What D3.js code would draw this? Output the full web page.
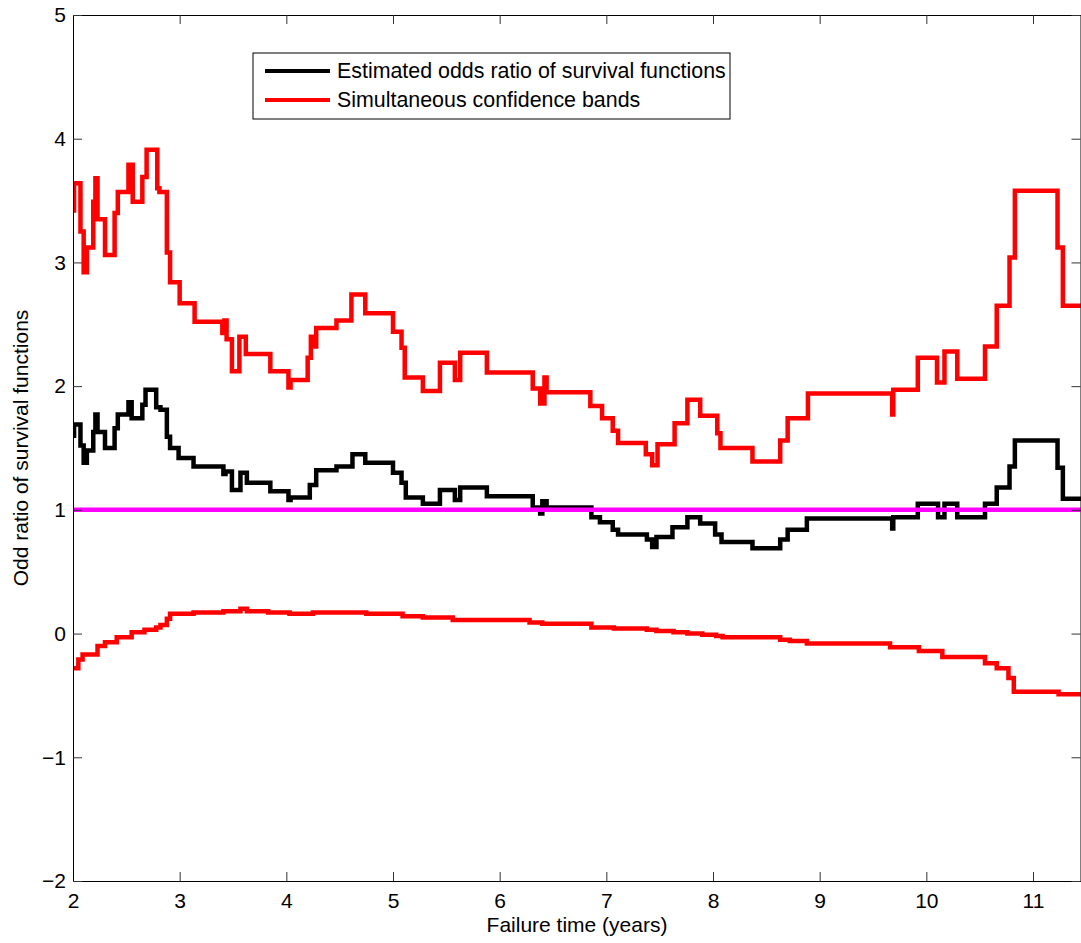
<!DOCTYPE html>
<html>
<head>
<meta charset="utf-8">
<script src="https://cdn.jsdelivr.net/npm/d3@7"></script>
<style>
  body { margin: 0; background: #fff; }
  svg { display: block; }
  text { font-family: "Liberation Sans", Arial, Helvetica, sans-serif; fill: #000; }
</style>
</head>
<body>
<div id="chart"></div>
<script>
// step data (time in years, value = odds ratio)
var estTime = [2.00, 2.01, 2.07, 2.10, 2.13, 2.19, 2.21, 2.23, 2.30, 2.39, 2.42, 2.52, 2.55, 2.65, 2.68, 2.78, 2.82,
  2.88, 2.91, 2.99, 3.13, 3.41, 3.43, 3.49, 3.57, 3.63, 3.85, 4.02, 4.04, 4.22, 4.28, 4.47, 4.62, 4.74, 5.00,
  5.08, 5.12, 5.28, 5.44, 5.58, 5.63, 5.88, 6.31, 6.38, 6.40, 6.44, 6.86, 6.94, 7.06, 7.11, 7.38, 7.43, 7.47,
  7.62, 7.76, 7.88, 8.02, 8.08, 8.37, 8.63, 8.70, 8.88, 9.68, 9.69, 9.92, 10.11, 10.17, 10.29, 10.55, 10.66,
  10.78, 10.83, 11.23, 11.28];
var estValue = [1.60, 1.69, 1.52, 1.38, 1.48, 1.63, 1.77, 1.63, 1.50, 1.66, 1.77, 1.87, 1.74, 1.85, 1.97, 1.83, 1.81,
  1.59, 1.50, 1.42, 1.35, 1.29, 1.31, 1.16, 1.30, 1.22, 1.15, 1.08, 1.10, 1.20, 1.32, 1.35, 1.45, 1.38, 1.30,
  1.22, 1.10, 1.05, 1.16, 1.08, 1.18, 1.11, 1.02, 0.97, 1.07, 1.02, 0.94, 0.90, 0.84, 0.80, 0.76, 0.70, 0.78,
  0.86, 0.94, 0.89, 0.80, 0.74, 0.69, 0.76, 0.84, 0.93, 0.85, 0.94, 1.05, 0.94, 1.05, 0.94, 1.05, 1.18,
  1.35, 1.56, 1.34, 1.09];

var upperTime = [2.00, 2.01, 2.07, 2.10, 2.13, 2.19, 2.21, 2.23, 2.30, 2.39, 2.42, 2.52, 2.56, 2.65, 2.69, 2.79, 2.81,
  2.88, 2.91, 3.00, 3.14, 3.40, 3.42, 3.44, 3.49, 3.56, 3.62, 3.85, 4.02, 4.04, 4.20, 4.23, 4.25, 4.28, 4.47,
  4.61, 4.74, 5.00, 5.08, 5.11, 5.28, 5.44, 5.58, 5.63, 5.88, 6.31, 6.38, 6.42, 6.44, 6.85, 6.96, 7.06, 7.11,
  7.37, 7.43, 7.48, 7.64, 7.76, 7.88, 8.04, 8.07, 8.37, 8.63, 8.70, 8.89, 9.68, 9.69, 9.92, 10.10, 10.17,
  10.29, 10.55, 10.66, 10.78, 10.83, 11.23, 11.28];
var upperValue = [3.42, 3.64, 3.25, 2.92, 3.12, 3.49, 3.68, 3.35, 3.06, 3.40, 3.57, 3.79, 3.49, 3.69, 3.91, 3.60, 3.57,
  3.08, 2.84, 2.67, 2.52, 2.43, 2.53, 2.38, 2.12, 2.40, 2.26, 2.12, 1.99, 2.05, 2.23, 2.40, 2.32, 2.47, 2.53,
  2.74, 2.59, 2.44, 2.31, 2.07, 1.96, 2.19, 2.05, 2.27, 2.11, 1.98, 1.86, 2.07, 1.95, 1.84, 1.74, 1.64, 1.54,
  1.45, 1.36, 1.53, 1.70, 1.89, 1.76, 1.62, 1.50, 1.39, 1.56, 1.74, 1.94, 1.77, 1.97, 2.23, 2.03, 2.28,
  2.06, 2.32, 2.65, 3.04, 3.58, 3.12, 2.65];

var lowerTime = [2.00, 2.05, 2.09, 2.23, 2.30, 2.41, 2.55, 2.67, 2.78, 2.82, 2.88, 2.91, 3.13, 3.41, 3.57, 3.63, 3.83,
  4.03, 4.25, 4.75, 5.09, 5.28, 5.56, 6.28, 6.40, 6.86, 7.07, 7.38, 7.47, 7.63, 7.76, 7.90, 8.03, 8.09, 8.63,
  8.72, 8.88, 9.66, 9.93, 10.15, 10.55, 10.66, 10.77, 10.82, 11.24];
var lowerValue = [-0.28, -0.21, -0.17, -0.10, -0.07, -0.03, 0.01, 0.03, 0.05, 0.07, 0.12, 0.16, 0.17, 0.18, 0.20, 0.18, 0.17,
  0.16, 0.17, 0.16, 0.14, 0.13, 0.11, 0.09, 0.08, 0.05, 0.04, 0.03, 0.02, 0.01, 0.00, -0.01, -0.02, -0.03, -0.05,
  -0.06, -0.08, -0.11, -0.14, -0.19, -0.24, -0.28, -0.36, -0.47, -0.49];

var refLevel = 1;
var xTicks = [2, 3, 4, 5, 6, 7, 8, 9, 10, 11];
var yTicks = [-2, -1, 0, 1, 2, 3, 4, 5];
var legendLabels = ["Estimated odds ratio of survival functions", "Simultaneous confidence bands"];

var width = 1081, height = 943;
// note: "top" is taken by window.top, so use plot* names
var plotLeft = 73, plotRight = 1081, plotTop = 15, plotBottom = 881;
var xMax = 11.45;
var lineW = 4.5;

var svg = d3.select("#chart").append("svg")
  .attr("width", width)
  .attr("height", height);

var x = d3.scaleLinear().domain([2, xMax]).range([plotLeft, plotRight]);
var y = d3.scaleLinear().domain([-2, 5]).range([plotBottom, plotTop]);

svg.append("clipPath").attr("id", "plotclip")
  .append("rect")
  .attr("x", plotLeft).attr("y", plotTop)
  .attr("width", plotRight - plotLeft).attr("height", plotBottom - plotTop);

function toPoints(times, values) {
  var pts = times.map(function(t, i) { return [t, values[i]]; });
  pts.push([xMax, values[values.length - 1]]);
  return pts;
}

var line = d3.line()
  .x(function(d) { return x(d[0]); })
  .y(function(d) { return y(d[1]); })
  .curve(d3.curveStepAfter);

var plot = svg.append("g").attr("clip-path", "url(#plotclip)");

plot.append("path")
  .datum(toPoints(upperTime, upperValue))
  .attr("d", line)
  .attr("fill", "none").attr("stroke", "#ff0000").attr("stroke-width", lineW);

plot.append("path")
  .datum(toPoints(lowerTime, lowerValue))
  .attr("d", line)
  .attr("fill", "none").attr("stroke", "#ff0000").attr("stroke-width", lineW);

plot.append("path")
  .datum(toPoints(estTime, estValue))
  .attr("d", line)
  .attr("fill", "none").attr("stroke", "#000").attr("stroke-width", lineW);

plot.append("line")
  .attr("x1", x(2)).attr("x2", x(xMax))
  .attr("y1", y(refLevel)).attr("y2", y(refLevel))
  .attr("stroke", "#ff00ff").attr("stroke-width", lineW);

// axes, ticks pointing inward like matlab
var tickLen = 9;
var fontSize = 21;

svg.append("g")
  .attr("transform", "translate(0," + plotBottom + ")")
  .call(d3.axisBottom(x).tickValues(xTicks).tickSize(-tickLen).tickPadding(12).tickSizeOuter(0))
  .call(function(g) {
    g.select(".domain").attr("stroke", "#000");
    g.selectAll("text").attr("font-size", fontSize).attr("font-family", "Liberation Sans, Arial, sans-serif");
  });

svg.append("g")
  .attr("transform", "translate(0," + plotTop + ")")
  .call(d3.axisTop(x).tickValues(xTicks).tickSize(-tickLen).tickFormat("").tickSizeOuter(0))
  .call(function(g) { g.select(".domain").attr("stroke", "#000"); });

svg.append("g")
  .attr("transform", "translate(" + plotLeft + ",0)")
  .call(d3.axisLeft(y).tickValues(yTicks).tickSize(-tickLen).tickPadding(7).tickSizeOuter(0)
    .tickFormat(function(d) { return d < 0 ? "\u2212" + Math.abs(d) : d; }))
  .call(function(g) {
    g.select(".domain").attr("stroke", "#000");
    g.selectAll("text").attr("font-size", fontSize).attr("font-family", "Liberation Sans, Arial, sans-serif");
  });

svg.append("g")
  .attr("transform", "translate(" + (plotRight - 0.5) + ",0)")
  .call(d3.axisRight(y).tickValues(yTicks).tickSize(-tickLen).tickFormat("").tickSizeOuter(0))
  .call(function(g) { g.select(".domain").attr("stroke", "#000"); });

svg.selectAll(".tick line").attr("stroke", "#333");

// axis labels
svg.append("text")
  .attr("x", 577).attr("y", 932)
  .attr("text-anchor", "middle")
  .attr("font-size", fontSize)
  .text("Failure time (years)");

svg.append("text")
  .attr("transform", "translate(28," + ((plotTop + plotBottom) / 2) + ")rotate(-90)")
  .attr("text-anchor", "middle")
  .attr("font-size", fontSize)
  .text("Odd ratio of survival functions");

// legend
var legend = svg.append("g").attr("transform", "translate(253,53)");
legend.append("rect")
  .attr("width", 477).attr("height", 66)
  .attr("fill", "#fff").attr("stroke", "#000").attr("stroke-width", 1);

var legendColors = ["#000", "#ff0000"];
legendLabels.forEach(function(label, i) {
  var ly = 18 + i * 29;
  legend.append("line")
    .attr("x1", 12).attr("x2", 77)
    .attr("y1", ly).attr("y2", ly)
    .attr("stroke", legendColors[i]).attr("stroke-width", 4);
  legend.append("text")
    .attr("x", 84).attr("y", ly + 7)
    .attr("font-size", 21.4)
    .text(label);
});
</script>
</body>
</html>
